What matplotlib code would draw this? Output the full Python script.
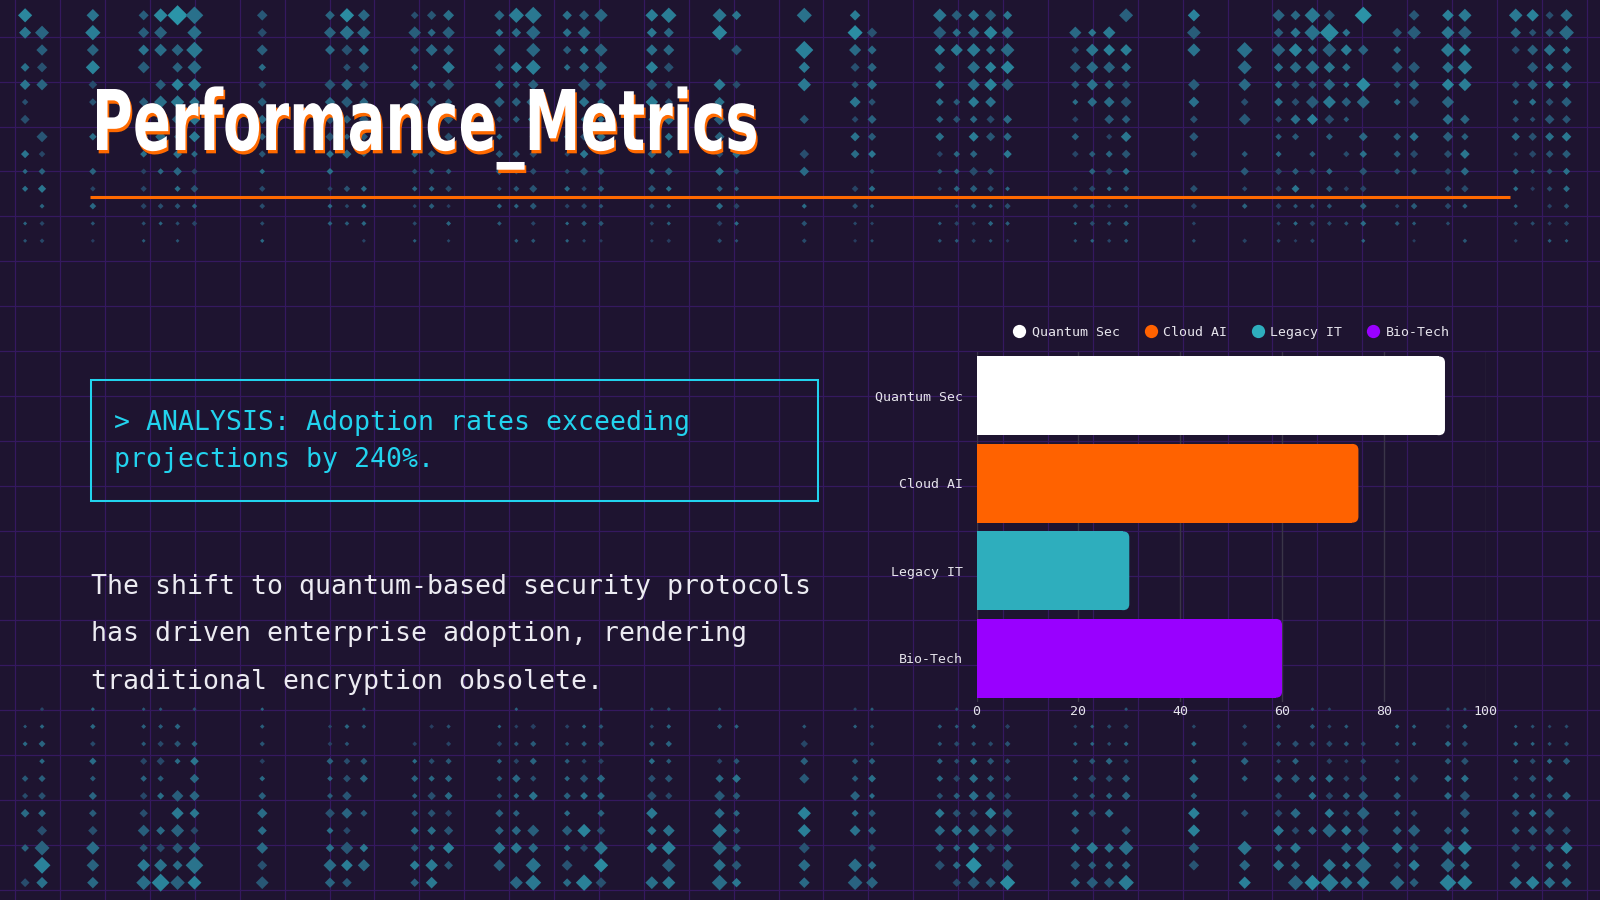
import numpy as np
import matplotlib.pyplot as plt
import matplotlib.patheffects as pe
from matplotlib.colors import to_rgba
from matplotlib.patches import FancyBboxPatch, Rectangle
from matplotlib.lines import Line2D
from matplotlib.transforms import Affine2D

# Data
categories = ['Quantum Sec', 'Cloud AI', 'Legacy IT', 'Bio-Tech']
values = [92, 75, 30, 60]
bar_colors = ['#ffffff', '#ff6200', '#2eaebd', '#9900ff']
xticks = [0, 20, 40, 60, 80, 100]

title = 'Performance_Metrics'
analysis_lines = ['> ANALYSIS: Adoption rates exceeding', 'projections by 240%.']
body_lines = ['The shift to quantum-based security protocols',
              'has driven enterprise adoption, rendering',
              'traditional encryption obsolete.']

BG = '#1e1430'
W, H = 1568, 882          # layout canvas in px
PT = 1600 / W * 72 / 100  # px -> pt
MONO = ['DejaVu Sans Mono']


class Squeeze(pe.AbstractPathEffect):
    # narrow the glyphs horizontally around x0, with a solid drop shadow
    def __init__(self, sx, x0, shadow, offset):
        super().__init__()
        self.sx, self.x0, self.shadow, self.off = sx, x0, to_rgba(shadow), offset

    def draw_path(self, renderer, gc, tpath, affine, rgbFace=None):
        aff = affine + Affine2D().translate(-self.x0, 0).scale(self.sx, 1).translate(self.x0, 0)
        gc0 = renderer.new_gc()
        gc0.copy_properties(gc)
        dx = renderer.points_to_pixels(self.off[0])
        dy = renderer.points_to_pixels(self.off[1])
        renderer.draw_path(gc0, tpath, aff + Affine2D().translate(dx, dy), self.shadow)
        gc0.restore()
        renderer.draw_path(gc, tpath, aff, rgbFace)


fig = plt.figure(figsize=(16, 9), dpi=100, facecolor=BG)
bg = fig.add_axes([0, 0, 1, 1])
bg.set_xlim(0, W)
bg.set_ylim(H, 0)
bg.axis('off')

# purple grid
for gx in np.arange(15, W, 44):
    bg.axvline(gx, color='#35195f', lw=0.9, zorder=0)
for gy in np.arange(36, H, 44):
    bg.axhline(gy, color='#35195f', lw=0.9, zorder=0)

# diamond rain decoration (deterministic hash)
cx = np.arange(8, W, 16.6)
cy = np.arange(15, H, 17)
I, J = np.meshgrid(np.arange(len(cx)), np.arange(len(cy)))
X, Y = np.meshgrid(cx, cy)


def hsh(a, b):
    v = np.sin(a * 12.9898 + b * 78.233) * 43758.5453
    return v - np.floor(v)


col_on = hsh(I, 0.37) > 0.5
col_str = 0.55 + 0.45 * hsh(I, 2.71)
cell = hsh(I, J)
edge = np.clip(1 - Y / 265, 0, 1) + np.clip((Y - 680) / 200, 0, 1)
inten = edge * col_str * (0.35 + 0.65 * cell)
keep = col_on & (cell > 0.12) & (inten > 0.04)
xs, ys, it = X[keep], Y[keep], np.clip(inten[keep], 0, 1)
c_lo = np.array([0.15, 0.21, 0.35])
c_hi = np.array([0.17, 0.58, 0.66])
t = np.clip(hsh(xs, ys) * 0.5 + it * 0.7, 0, 1)[:, None]
rgb = c_lo * (1 - t) + c_hi * t
bg.scatter(xs, ys, s=(1.5 + 10.0 * it) ** 2, marker='D', c=rgb, linewidths=0, zorder=1)

# title
x0 = bg.transData.transform((90, 0))[0]
bg.text(90, 147, title, color='white', fontsize=82 * PT, fontweight='bold',
        family='DejaVu Sans', va='baseline', ha='left', zorder=5,
        path_effects=[Squeeze(0.67, x0, '#ff6a00', (1.2, -2.4))])
bg.plot([88, 1480], [193, 193], color='#ff6a00', lw=3 * PT, solid_capstyle='butt', zorder=5)

# analysis box
bg.add_patch(Rectangle((89, 372), 713, 119, fill=False, ec='#22d3ee', lw=2 * PT, zorder=5))
for i, line in enumerate(analysis_lines):
    bg.text(112, 415 + 36 * i, line, color='#22d3ee', fontsize=26 * PT, family=MONO,
            va='center', ha='left', zorder=6)

for i, line in enumerate(body_lines):
    bg.text(89, 575 + 46.5 * i, line, color='#ecebf2', fontsize=26 * PT, family=MONO,
            va='center', ha='left', zorder=6)

# bar chart
ax = fig.add_axes([957 / W, 1 - 688 / H, 499 / W, 343 / H])
ax.set_facecolor('none')
ypos = np.arange(len(categories))
r = 1.2
ax.barh(ypos, np.array(values) - r, height=0.9, color=bar_colors, zorder=3)
for y, v, c in zip(ypos, values, bar_colors):
    ax.add_patch(FancyBboxPatch((v - 2 * r, y - 0.45), 2 * r, 0.9,
                                boxstyle=f'round,pad=0,rounding_size={r}',
                                mutation_aspect=0.0583, fc=c, ec='none', zorder=3))
ax.set_xlim(0, 100)
ax.set_ylim(3.5, -0.5)
ax.set_xticks(xticks)
ax.set_yticks(ypos)
ax.set_yticklabels(categories)
ax.xaxis.grid(True, color='#3a3548', lw=1)
ax.set_axisbelow(True)
for s in ax.spines.values():
    s.set_visible(False)
ax.tick_params(axis='both', length=0, colors='#e6e4ec', labelsize=13 * PT)
ax.tick_params(axis='x', pad=2)
ax.tick_params(axis='y', pad=10)
for lab in ax.get_xticklabels() + ax.get_yticklabels():
    lab.set_family(MONO)

handles = [Line2D([], [], ls='none', marker='o', ms=13 * PT, mfc=c, mec='none') for c in bar_colors]
leg = ax.legend(handles, categories, loc='lower center', bbox_to_anchor=(0.5, 1.0), ncol=4,
                frameon=False, handletextpad=0.45, columnspacing=1.8, handlelength=1.0,
                borderaxespad=0.6, prop={'family': MONO, 'size': 13 * PT})
for txt in leg.get_texts():
    txt.set_color('#e6e4ec')

fig.savefig('out.png', dpi=100, facecolor=BG)
